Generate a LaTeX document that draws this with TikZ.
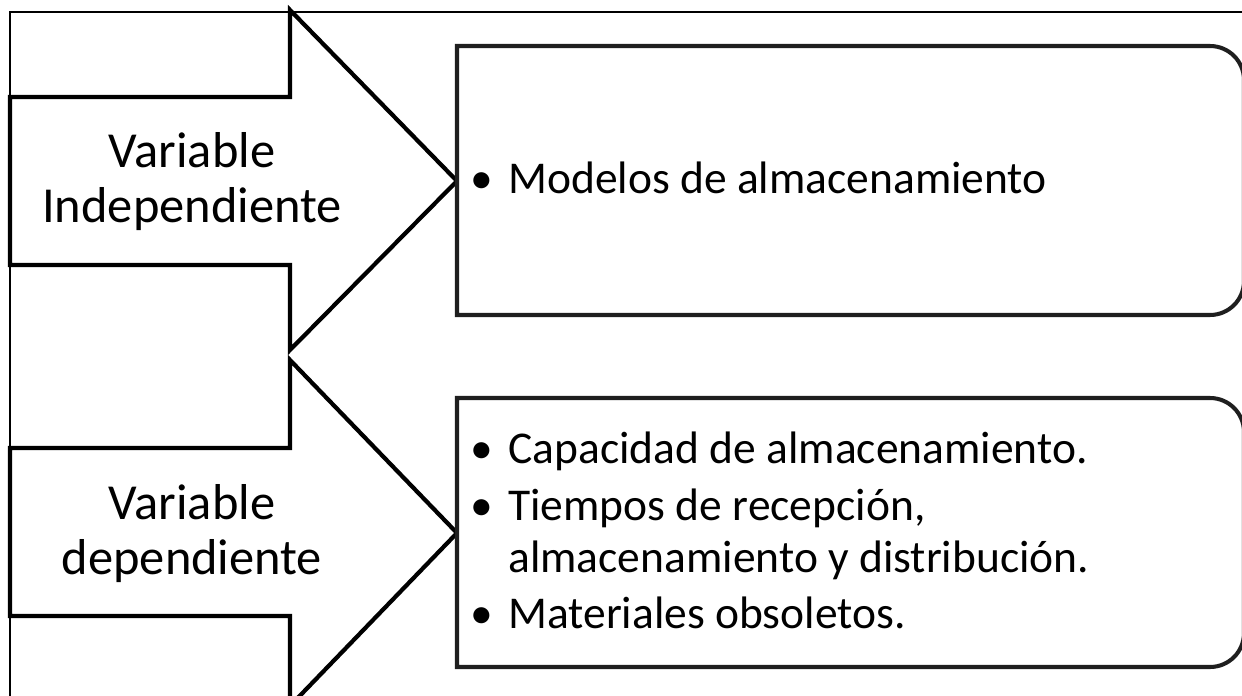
\documentclass[tikz,border=0pt]{standalone}
\usepackage{fontspec}
\setmainfont{Carlito}
\begin{document}
\begin{tikzpicture}[x=0.02cm,y=-0.02cm,
  arrow_shape/.style={draw=black,line width=2.4pt,fill=white,line join=miter},
  list_box/.style={draw=black!88,line width=2.3pt,fill=white},
  var_text/.style={font=\fontsize{28.7}{31.3}\selectfont,align=center},
  item_text/.style={font=\fontsize{25.9}{31.3}\selectfont,anchor=base west,inner sep=0pt},
  bullet_node/.style={font=\fontsize{25.9}{31.3}\selectfont,anchor=base,inner sep=0pt}]
    \useasboundingbox (0,0) rectangle (1242,696);
    \clip (0,0) rectangle (1242,696);
    % frame
    \draw[line width=0.85pt] (10,12) rectangle (1300,720);
    % arrows
    \draw[arrow_shape] (10,97) -- (290,97) -- (290,10) -- (457,181) -- (290,350) -- (290,265) -- (10,265) -- cycle;
    \draw[arrow_shape] (10,448) -- (290,448) -- (290,360) -- (457,533) -- (290,706) -- (290,616) -- (10,616) -- cycle;
    % boxes
    \draw[list_box] (457,46) -- (1210,46) arc[start angle=-90,end angle=0,radius=34] -- (1244,281) arc[start angle=0,end angle=90,radius=34] -- (457,315) -- cycle;
    \draw[list_box] (457,398) -- (1210,398) arc[start angle=-90,end angle=0,radius=34] -- (1244,633) arc[start angle=0,end angle=90,radius=34] -- (457,667) -- cycle;
    % texts
    \node[var_text] (indep) at (192,182) {Variable\\Independiente};
    \node[var_text] (dep) at (192,534) {Variable\\dependiente};
    \node[bullet_node] (b1) at (482,194) {•};
    \node[item_text] (modelos) at (508,194) {Modelos de almacenamiento};
    \node[bullet_node] (b2) at (482,463) {•};
    \node[item_text] (capacidad) at (508,463) {Capacidad de almacenamiento.};
    \node[bullet_node] (b3) at (482,520) {•};
    \node[item_text] (tiempos) at (508,520) {Tiempos de recepción,};
    \node[item_text] (tiempos2) at (508,572) {almacenamiento y distribución.};
    \node[bullet_node] (b4) at (482,628) {•};
    \node[item_text] (materiales) at (508,628) {Materiales obsoletos.};
\end{tikzpicture}
\end{document}
